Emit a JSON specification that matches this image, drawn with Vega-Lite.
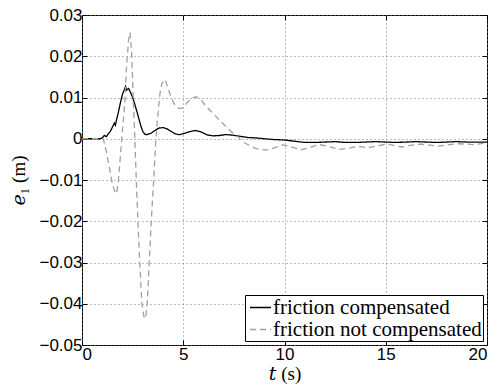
{
  "$schema": "https://vega.github.io/schema/vega-lite/v6.json",
  "width": 405,
  "height": 330,
  "autosize": "none",
  "padding": {"left": 82, "top": 15, "right": 11, "bottom": 42},
  "background": "white",
  "config": {
    "view": {"stroke": "black", "strokeWidth": 1},
    "axis": {"labelFont": "Liberation Sans", "labelFontSize": 17, "labelColor": "black", "titleColor": "black", "titleFont": "Liberation Serif, DejaVu Serif, serif", "titleFontWeight": "normal", "titleFontSize": 19, "domain": false, "tickColor": "black", "tickSize": -5}
  },
  "datasets": {
    "d": [
      {"t": 0, "e": 0, "s": "friction compensated"},
      {"t": 0.9, "e": 0, "s": "friction compensated"},
      {"t": 1.0, "e": 0.0002, "s": "friction compensated"},
      {"t": 1.1, "e": 0.0008, "s": "friction compensated"},
      {"t": 1.2, "e": 0.0005, "s": "friction compensated"},
      {"t": 1.3, "e": 0.0012, "s": "friction compensated"},
      {"t": 1.4, "e": 0.0018, "s": "friction compensated"},
      {"t": 1.5, "e": 0.0028, "s": "friction compensated"},
      {"t": 1.6, "e": 0.0038, "s": "friction compensated"},
      {"t": 1.65, "e": 0.0033, "s": "friction compensated"},
      {"t": 1.7, "e": 0.0045, "s": "friction compensated"},
      {"t": 1.8, "e": 0.0065, "s": "friction compensated"},
      {"t": 1.9, "e": 0.0088, "s": "friction compensated"},
      {"t": 2.0, "e": 0.0108, "s": "friction compensated"},
      {"t": 2.1, "e": 0.012, "s": "friction compensated"},
      {"t": 2.15, "e": 0.0127, "s": "friction compensated"},
      {"t": 2.2, "e": 0.0118, "s": "friction compensated"},
      {"t": 2.3, "e": 0.0122, "s": "friction compensated"},
      {"t": 2.4, "e": 0.0112, "s": "friction compensated"},
      {"t": 2.5, "e": 0.01, "s": "friction compensated"},
      {"t": 2.6, "e": 0.0085, "s": "friction compensated"},
      {"t": 2.7, "e": 0.0068, "s": "friction compensated"},
      {"t": 2.8, "e": 0.005, "s": "friction compensated"},
      {"t": 2.9, "e": 0.0032, "s": "friction compensated"},
      {"t": 3.0, "e": 0.0018, "s": "friction compensated"},
      {"t": 3.1, "e": 0.0011, "s": "friction compensated"},
      {"t": 3.2, "e": 0.001, "s": "friction compensated"},
      {"t": 3.4, "e": 0.0013, "s": "friction compensated"},
      {"t": 3.6, "e": 0.002, "s": "friction compensated"},
      {"t": 3.8, "e": 0.0026, "s": "friction compensated"},
      {"t": 4.0, "e": 0.0027, "s": "friction compensated"},
      {"t": 4.2, "e": 0.0024, "s": "friction compensated"},
      {"t": 4.4, "e": 0.0018, "s": "friction compensated"},
      {"t": 4.6, "e": 0.0012, "s": "friction compensated"},
      {"t": 4.8, "e": 0.001, "s": "friction compensated"},
      {"t": 5.0, "e": 0.0012, "s": "friction compensated"},
      {"t": 5.3, "e": 0.0017, "s": "friction compensated"},
      {"t": 5.6, "e": 0.002, "s": "friction compensated"},
      {"t": 5.9, "e": 0.0016, "s": "friction compensated"},
      {"t": 6.2, "e": 0.0009, "s": "friction compensated"},
      {"t": 6.5, "e": 0.0007, "s": "friction compensated"},
      {"t": 6.8, "e": 0.0008, "s": "friction compensated"},
      {"t": 7.1, "e": 0.001, "s": "friction compensated"},
      {"t": 7.4, "e": 0.0009, "s": "friction compensated"},
      {"t": 7.8, "e": 0.0006, "s": "friction compensated"},
      {"t": 8.2, "e": 0.0003, "s": "friction compensated"},
      {"t": 8.6, "e": 0.0002, "s": "friction compensated"},
      {"t": 9.0, "e": 0.0, "s": "friction compensated"},
      {"t": 9.5, "e": -0.0002, "s": "friction compensated"},
      {"t": 10, "e": -0.0003, "s": "friction compensated"},
      {"t": 10.5, "e": -0.0006, "s": "friction compensated"},
      {"t": 11, "e": -0.0009, "s": "friction compensated"},
      {"t": 11.5, "e": -0.0009, "s": "friction compensated"},
      {"t": 12, "e": -0.0008, "s": "friction compensated"},
      {"t": 12.5, "e": -0.0007, "s": "friction compensated"},
      {"t": 13, "e": -0.0009, "s": "friction compensated"},
      {"t": 13.5, "e": -0.0009, "s": "friction compensated"},
      {"t": 14, "e": -0.0008, "s": "friction compensated"},
      {"t": 14.5, "e": -0.0007, "s": "friction compensated"},
      {"t": 15, "e": -0.0008, "s": "friction compensated"},
      {"t": 15.5, "e": -0.0009, "s": "friction compensated"},
      {"t": 16, "e": -0.0008, "s": "friction compensated"},
      {"t": 16.5, "e": -0.0007, "s": "friction compensated"},
      {"t": 17, "e": -0.0008, "s": "friction compensated"},
      {"t": 17.5, "e": -0.0009, "s": "friction compensated"},
      {"t": 18, "e": -0.0008, "s": "friction compensated"},
      {"t": 18.5, "e": -0.0007, "s": "friction compensated"},
      {"t": 19, "e": -0.0008, "s": "friction compensated"},
      {"t": 19.5, "e": -0.0008, "s": "friction compensated"},
      {"t": 20, "e": -0.0008, "s": "friction compensated"},
      {"t": 0, "e": 0, "s": "friction not compensated"},
      {"t": 1.05, "e": 0, "s": "friction not compensated"},
      {"t": 1.2, "e": -0.003, "s": "friction not compensated"},
      {"t": 1.35, "e": -0.007, "s": "friction not compensated"},
      {"t": 1.5, "e": -0.011, "s": "friction not compensated"},
      {"t": 1.65, "e": -0.0132, "s": "friction not compensated"},
      {"t": 1.71, "e": -0.0133, "s": "friction not compensated"},
      {"t": 1.8, "e": -0.01, "s": "friction not compensated"},
      {"t": 1.9, "e": -0.004, "s": "friction not compensated"},
      {"t": 1.96, "e": 0, "s": "friction not compensated"},
      {"t": 2.05, "e": 0.005, "s": "friction not compensated"},
      {"t": 2.12, "e": 0.0094, "s": "friction not compensated"},
      {"t": 2.2, "e": 0.0175, "s": "friction not compensated"},
      {"t": 2.3, "e": 0.024, "s": "friction not compensated"},
      {"t": 2.37, "e": 0.0258, "s": "friction not compensated"},
      {"t": 2.45, "e": 0.021, "s": "friction not compensated"},
      {"t": 2.53, "e": 0.01, "s": "friction not compensated"},
      {"t": 2.61, "e": 0.0, "s": "friction not compensated"},
      {"t": 2.68, "e": -0.01, "s": "friction not compensated"},
      {"t": 2.76, "e": -0.02, "s": "friction not compensated"},
      {"t": 2.85, "e": -0.03, "s": "friction not compensated"},
      {"t": 2.96, "e": -0.04, "s": "friction not compensated"},
      {"t": 3.05, "e": -0.043, "s": "friction not compensated"},
      {"t": 3.14, "e": -0.0436, "s": "friction not compensated"},
      {"t": 3.22, "e": -0.04, "s": "friction not compensated"},
      {"t": 3.32, "e": -0.03, "s": "friction not compensated"},
      {"t": 3.42, "e": -0.02, "s": "friction not compensated"},
      {"t": 3.54, "e": -0.01, "s": "friction not compensated"},
      {"t": 3.65, "e": 0.0, "s": "friction not compensated"},
      {"t": 3.75, "e": 0.006, "s": "friction not compensated"},
      {"t": 3.85, "e": 0.011, "s": "friction not compensated"},
      {"t": 3.95, "e": 0.0135, "s": "friction not compensated"},
      {"t": 4.1, "e": 0.0144, "s": "friction not compensated"},
      {"t": 4.2, "e": 0.013, "s": "friction not compensated"},
      {"t": 4.4, "e": 0.01, "s": "friction not compensated"},
      {"t": 4.6, "e": 0.008, "s": "friction not compensated"},
      {"t": 4.8, "e": 0.0073, "s": "friction not compensated"},
      {"t": 5.0, "e": 0.0075, "s": "friction not compensated"},
      {"t": 5.2, "e": 0.0088, "s": "friction not compensated"},
      {"t": 5.4, "e": 0.0098, "s": "friction not compensated"},
      {"t": 5.65, "e": 0.0102, "s": "friction not compensated"},
      {"t": 5.9, "e": 0.0092, "s": "friction not compensated"},
      {"t": 6.2, "e": 0.0075, "s": "friction not compensated"},
      {"t": 6.5, "e": 0.006, "s": "friction not compensated"},
      {"t": 6.8, "e": 0.0045, "s": "friction not compensated"},
      {"t": 7.1, "e": 0.003, "s": "friction not compensated"},
      {"t": 7.4, "e": 0.0016, "s": "friction not compensated"},
      {"t": 7.7, "e": 0.0005, "s": "friction not compensated"},
      {"t": 8.0, "e": -0.0009, "s": "friction not compensated"},
      {"t": 8.3, "e": -0.0017, "s": "friction not compensated"},
      {"t": 8.6, "e": -0.0024, "s": "friction not compensated"},
      {"t": 9.0, "e": -0.0027, "s": "friction not compensated"},
      {"t": 9.2, "e": -0.0027, "s": "friction not compensated"},
      {"t": 9.5, "e": -0.0022, "s": "friction not compensated"},
      {"t": 9.9, "e": -0.0015, "s": "friction not compensated"},
      {"t": 10.3, "e": -0.0019, "s": "friction not compensated"},
      {"t": 10.8, "e": -0.0027, "s": "friction not compensated"},
      {"t": 11.2, "e": -0.0022, "s": "friction not compensated"},
      {"t": 11.7, "e": -0.0014, "s": "friction not compensated"},
      {"t": 12.2, "e": -0.0019, "s": "friction not compensated"},
      {"t": 12.7, "e": -0.0026, "s": "friction not compensated"},
      {"t": 13.2, "e": -0.0023, "s": "friction not compensated"},
      {"t": 13.6, "e": -0.0018, "s": "friction not compensated"},
      {"t": 14.1, "e": -0.0022, "s": "friction not compensated"},
      {"t": 14.6, "e": -0.0017, "s": "friction not compensated"},
      {"t": 15.05, "e": -0.0013, "s": "friction not compensated"},
      {"t": 15.4, "e": -0.0016, "s": "friction not compensated"},
      {"t": 15.8, "e": -0.002, "s": "friction not compensated"},
      {"t": 16.2, "e": -0.0016, "s": "friction not compensated"},
      {"t": 16.7, "e": -0.0013, "s": "friction not compensated"},
      {"t": 17.1, "e": -0.0015, "s": "friction not compensated"},
      {"t": 17.6, "e": -0.0018, "s": "friction not compensated"},
      {"t": 18.0, "e": -0.0015, "s": "friction not compensated"},
      {"t": 18.5, "e": -0.0012, "s": "friction not compensated"},
      {"t": 19.0, "e": -0.0013, "s": "friction not compensated"},
      {"t": 19.3, "e": -0.0014, "s": "friction not compensated"},
      {"t": 19.7, "e": -0.0012, "s": "friction not compensated"},
      {"t": 20, "e": -0.001, "s": "friction not compensated"}
    ]
  },
  "data": {"name": "d"},
  "layer": [
    {
      "mark": {"type": "line", "strokeWidth": 1.3, "clip": true},
      "encoding": {
        "x": {"field": "t", "type": "quantitative", "scale": {"domain": [0, 20], "nice": false, "zero": false},
          "axis": {"orient": "bottom", "values": [0, 5, 10, 15, 20], "title": "𝑡 (s)", "titlePadding": 2, "labelPadding": 6, "grid": true, "gridColor": "#777", "gridDash": [1, 3], "gridWidth": 1}},
        "y": {"field": "e", "type": "quantitative", "scale": {"domain": [-0.05, 0.03], "nice": false, "zero": false},
          "axis": {"orient": "left", "values": [-0.05, -0.04, -0.03, -0.02, -0.01, 0, 0.01, 0.02, 0.03], "title": "𝑒₁ (m)", "titlePadding": 10, "labelPadding": 5, "grid": true, "gridColor": "#777", "gridDash": [1, 3], "gridWidth": 1,
            "labelExpr": "abs(datum.value) < 1e-9 ? '0' : format(datum.value, '.2f')"}},
        "color": {"field": "s", "type": "nominal",
          "scale": {"domain": ["friction compensated", "friction not compensated"], "range": ["black", "#a0a0a0"]},
          "legend": {"title": null, "orient": "bottom-right", "offset": 4, "strokeColor": "black", "fillColor": "white", "padding": 1, "rowPadding": 0, "labelFont": "Liberation Serif", "labelFontSize": 21, "labelLimit": 400, "labelColor": "black", "symbolType": "stroke", "symbolSize": 441, "symbolStrokeWidth": 1.3, "symbolOffset": 3, "labelOffset": 1, "cornerRadius": 0}},
        "strokeDash": {"field": "s", "type": "nominal",
          "scale": {"domain": ["friction compensated", "friction not compensated"], "range": [[1, 0], [6, 4]]},
          "legend": null}
      }
    },
    {
      "mark": {"type": "point", "opacity": 0},
      "encoding": {
        "x": {"field": "t", "type": "quantitative", "axis": {"orient": "top", "values": [0, 5, 10, 15, 20], "labels": false, "title": null, "grid": false}},
        "y": {"field": "e", "type": "quantitative", "axis": {"orient": "right", "values": [-0.05, -0.04, -0.03, -0.02, -0.01, 0, 0.01, 0.02, 0.03], "labels": false, "title": null, "grid": false}}
      }
    }
  ],
  "resolve": {"axis": {"x": "independent", "y": "independent"}}
}
